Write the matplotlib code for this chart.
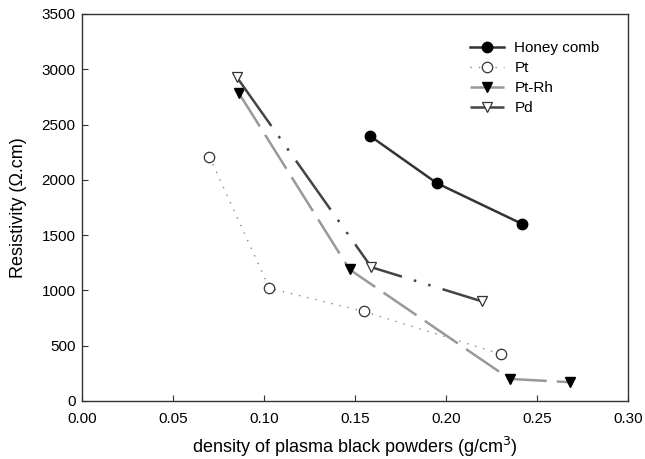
import matplotlib
matplotlib.use("Agg")
import matplotlib.pyplot as plt

plt.rcParams['font.family'] = ['Liberation Sans', 'DejaVu Sans']

# density of plasma black powders (g/cm^3) and resistivity (ohm.cm)
honey_x = [0.158, 0.195, 0.242]
honey_y = [2400, 1970, 1600]
pt_x = [0.070, 0.103, 0.155, 0.230]
pt_y = [2210, 1020, 810, 425]
ptrh_x = [0.086, 0.147, 0.235, 0.268]
ptrh_y = [2790, 1190, 200, 170]
pd_x = [0.085, 0.159, 0.220]
pd_y = [2930, 1210, 900]

xticks = [0.00, 0.05, 0.10, 0.15, 0.20, 0.25, 0.30]
yticks = [0, 500, 1000, 1500, 2000, 2500, 3000, 3500]

fig = plt.figure(figsize=(6.45, 4.59), dpi=100)
ax = fig.add_axes([82 / 645, 58 / 459, 546 / 645, 387 / 459])

ax.plot(honey_x, honey_y, color='#333333', lw=1.8, ls='-', marker='o',
        ms=7.5, mfc='black', mec='black', label='Honey comb')
ax.plot(pt_x, pt_y, color='#888888', lw=1.0, ls=(0, (1, 5)), marker='o',
        ms=7.5, mfc='white', mec='#333333', mew=0.9, label='Pt')
ax.plot(ptrh_x, ptrh_y, color='#999999', lw=1.8, ls=(0, (16, 4)), marker='v',
        ms=7.5, mfc='black', mec='black', label='Pt-Rh')
ax.plot(pd_x, pd_y, color='#444444', lw=1.8, ls=(0, (24, 5, 1, 5, 1, 5)), marker='v',
        ms=7.5, mfc='white', mec='#333333', mew=0.9, label='Pd')

ax.set_xlim(0, 0.30)
ax.set_ylim(0, 3500)
ax.set_xticks(xticks)
ax.set_xticklabels([f"{t:.2f}" for t in xticks])
ax.set_yticks(yticks)
ax.tick_params(direction='in', length=4, labelsize=11, color='#333333')
ax.tick_params(axis='x', pad=8)
ax.tick_params(axis='y', pad=4.5)
for s in ax.spines.values():
    s.set_color('#333333')
    s.set_linewidth(1.0)

ax.set_xlabel('density of plasma black powders (g/cm$^3$)', fontsize=13)
ax.set_ylabel('Resistivity (\u03a9.cm)', fontsize=13)
ax.xaxis.set_label_coords(0.5, -0.118)
ax.yaxis.set_label_coords(-0.117, 0.5)
ax.xaxis.label.set_va('center')
ax.yaxis.label.set_va('center')

ax.legend(loc='upper left', bbox_to_anchor=(470 / 645, 1 - 41 / 459),
          bbox_transform=fig.transFigure, frameon=False, borderpad=0,
          borderaxespad=0, fontsize=11, handlelength=2.2, handletextpad=0.7,
          labelspacing=0.4)

fig.savefig('out.png', dpi=100)
